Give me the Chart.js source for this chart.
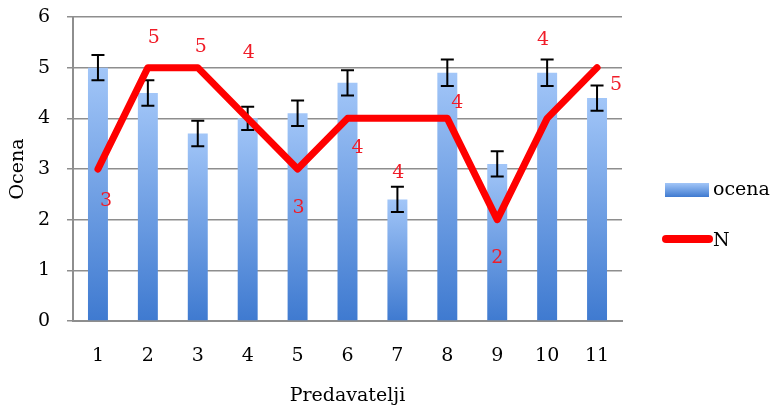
<!DOCTYPE html>
<html>
<head>
<meta charset="utf-8">
<script src="https://cdn.jsdelivr.net/npm/chart.js@4/dist/chart.umd.min.js"></script>
<style>
  html, body { margin: 0; padding: 0; background: #fff; }
  #wrap { width: 774px; height: 407px; }
</style>
</head>
<body>
<div id="wrap"><canvas id="chart"></canvas></div>
<script>
// data
const predavatelji = ['1', '2', '3', '4', '5', '6', '7', '8', '9', '10', '11'];
const ocena = [5.0, 4.5, 3.7, 4.0, 4.1, 4.7, 2.4, 4.9, 3.1, 4.9, 4.4];
const ocenaErr = [0.25, 0.25, 0.25, 0.23, 0.25, 0.25, 0.25, 0.26, 0.25, 0.26, 0.25];
const nValues = [3, 5, 5, 4, 3, 4, 4, 4, 2, 4, 5];

const serif = '"DejaVu Serif", "Liberation Serif", serif';
const grey = '#8e8e8e';

// label offsets for the red N labels (px), as they sit in the original
const labelShift = [[8, 32], [6, -30], [3, -21], [1, -65], [1, 39], [10, 30], [1, 55], [10, -15], [0, 38], [-4, -78], [19, 17]];

function barGradient(ctx, top, bottom) {
  const g = ctx.createLinearGradient(0, top, 0, bottom);
  g.addColorStop(0, '#a2c6f8');
  g.addColorStop(1, '#3f7ad0');
  return g;
}

const extras = {
  id: 'extras',
  afterDatasetDraw(chart, args) {
    if (args.index !== 0) return;
    const ctx = chart.ctx;
    const y = chart.scales.y;
    const meta = chart.getDatasetMeta(0);
    ctx.save();
    ctx.strokeStyle = '#000';
    ctx.lineWidth = 2;
    meta.data.forEach((bar, i) => {
      const hi = y.getPixelForValue(ocena[i] + ocenaErr[i]);
      const lo = y.getPixelForValue(ocena[i] - ocenaErr[i]);
      ctx.beginPath();
      ctx.moveTo(bar.x, hi); ctx.lineTo(bar.x, lo);
      ctx.moveTo(bar.x - 6.5, hi); ctx.lineTo(bar.x + 6.5, hi);
      ctx.moveTo(bar.x - 6.5, lo); ctx.lineTo(bar.x + 6.5, lo);
      ctx.stroke();
    });
    ctx.restore();
  },
  afterDatasetsDraw(chart) {
    const ctx = chart.ctx;
    const meta = chart.getDatasetMeta(1);
    ctx.save();
    ctx.fillStyle = '#f01c28';
    ctx.font = '19px ' + serif;
    ctx.textAlign = 'center';
    ctx.textBaseline = 'middle';
    meta.data.forEach((pt, i) => {
      ctx.fillText(String(nValues[i]), pt.x + labelShift[i][0], pt.y + labelShift[i][1]);
    });

    // legend
    ctx.fillStyle = barGradient(ctx, 183, 197);
    ctx.fillRect(665, 183, 44, 14);
    ctx.fillStyle = '#000';
    ctx.textAlign = 'left';
    ctx.font = '19px ' + serif;
    ctx.fillText('ocena', 713, 190);
    ctx.strokeStyle = '#ff0000';
    ctx.lineWidth = 8;
    ctx.lineCap = 'round';
    ctx.beginPath();
    ctx.moveTo(666, 239); ctx.lineTo(709, 239);
    ctx.stroke();
    ctx.fillText('N', 713, 241);
    ctx.restore();
  }
};

new Chart(document.getElementById('chart'), {
  data: {
    labels: predavatelji,
    datasets: [
      {
        type: 'bar',
        label: 'ocena',
        data: ocena,
        order: 2,
        barPercentage: 0.4,
        categoryPercentage: 1,
        backgroundColor: (c) => {
          const ch = c.chart;
          if (!ch.chartArea || c.raw === undefined) return '#6fa0e6';
          const y = ch.scales.y;
          return barGradient(ch.ctx, y.getPixelForValue(c.raw), y.getPixelForValue(0));
        }
      },
      {
        type: 'line',
        label: 'N',
        data: nValues,
        order: 1,
        borderColor: '#ff0000',
        borderWidth: 7,
        borderCapStyle: 'round',
        borderJoinStyle: 'round',
        pointRadius: 0,
        tension: 0
      }
    ]
  },
  options: {
    responsive: true,
    maintainAspectRatio: false,
    animation: false,
    layout: { padding: { top: 17, right: 152, left: 0, bottom: 0 } },
    plugins: { legend: { display: false }, tooltip: { enabled: false } },
    scales: {
      x: {
        offset: true,
        grid: { display: false },
        border: { color: grey, width: 2 },
        ticks: { color: '#000', font: { family: serif, size: 19 }, padding: 16, maxRotation: 0 },
        title: { display: true, text: 'Predavatelji', color: '#000', font: { family: serif, size: 19 }, padding: 0 },
        afterFit(s) { s.height = 86; }
      },
      y: {
        min: 0, max: 6,
        ticks: { stepSize: 1, color: '#000', font: { family: serif, size: 19, lineHeight: 1 }, padding: 17 },
        grid: { color: grey, lineWidth: 1.5, tickLength: 6 },
        border: { color: grey, width: 2 },
        title: { display: true, text: 'Ocena', color: '#000', font: { family: serif, size: 19 }, padding: { top: 7, bottom: 0 } },
        afterFit(s) { s.width = 73; s.paddingTop = 0; s.paddingBottom = 0; }
      }
    }
  },
  plugins: [extras]
});
</script>
</body>
</html>
